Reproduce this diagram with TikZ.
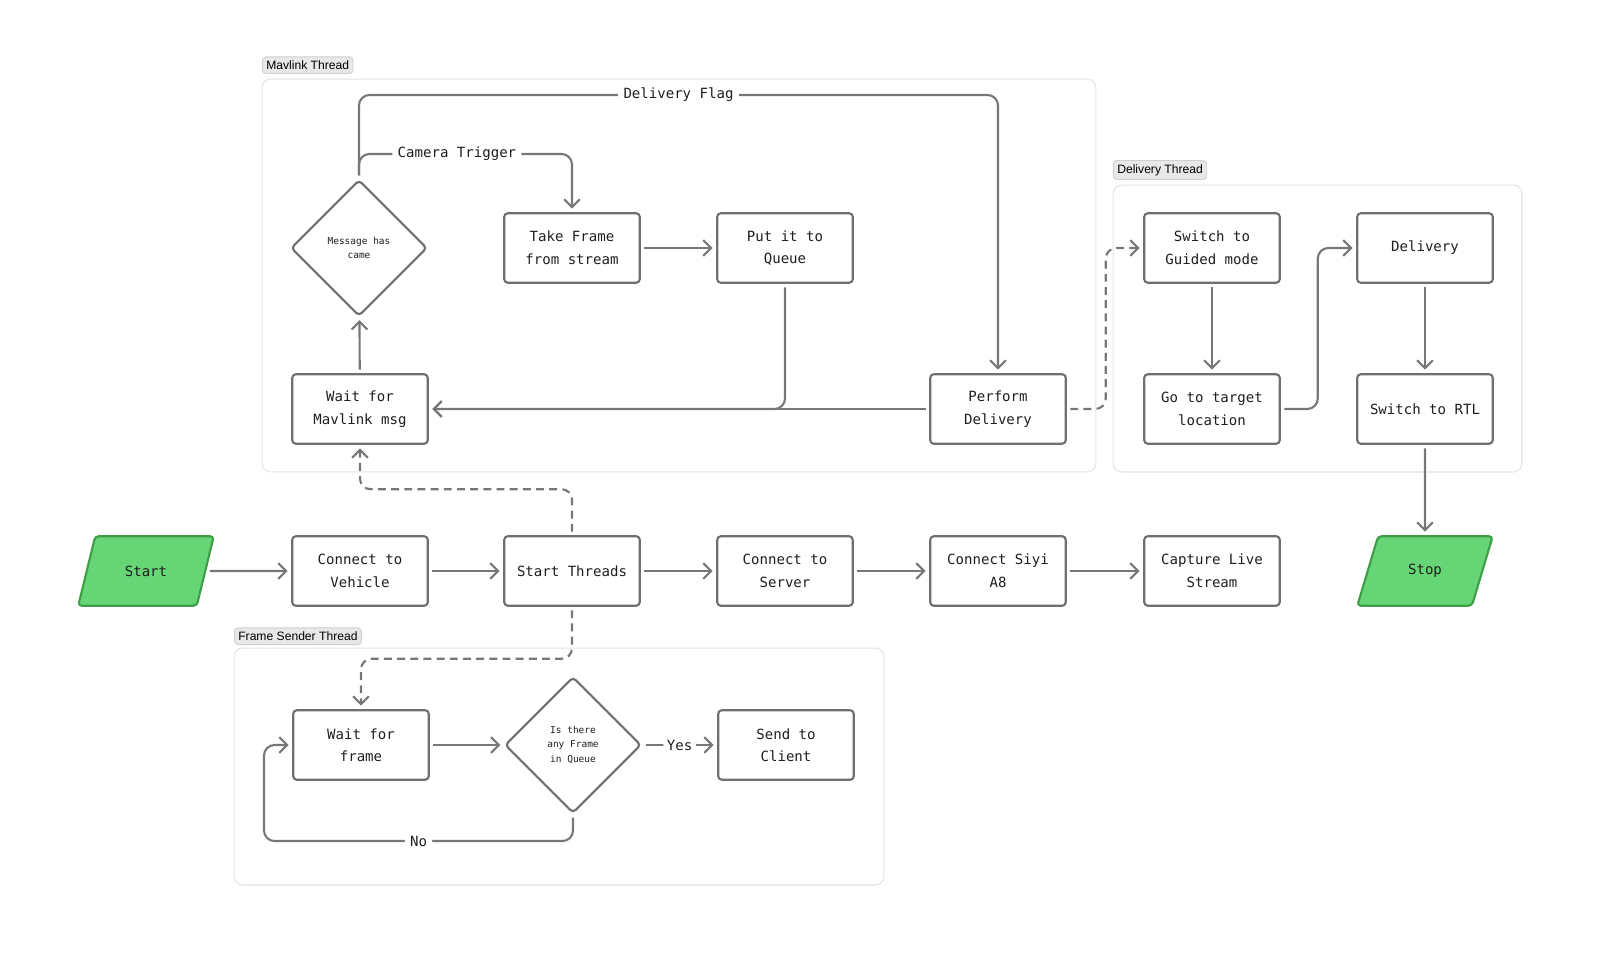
\documentclass[tikz,border=0pt]{standalone}
\usepackage{fontspec}
\setmainfont{Liberation Sans}
\setmonofont{DejaVu Sans Mono}
\usetikzlibrary{positioning, arrows.meta, shapes.geometric}

\definecolor{linegray}{HTML}{777777}
\definecolor{boxgray}{HTML}{6F6F6F}
\definecolor{textgray}{HTML}{1F1F1F}
\definecolor{startgreen}{HTML}{66D575}
\definecolor{startborder}{HTML}{3E9E48}
\definecolor{groupline}{HTML}{E4E4E4}
\definecolor{tagfill}{HTML}{E8E8E8}
\definecolor{tagline}{HTML}{CFCFCF}

\begin{document}
\begin{tikzpicture}[
    x=0.02cm, y=-0.02cm,
    % Styles
    process/.style={draw=boxgray, fill=white, line width=1.2pt, rounded corners=2pt, minimum width=2.71cm, minimum height=1.39cm, align=center, font=\ttfamily\fontsize{8}{12.8}\selectfont, text=textgray},
    decision/.style={diamond, draw=boxgray, fill=white, line width=1.2pt, rounded corners=2pt, minimum width=2.72cm, minimum height=2.72cm, inner sep=0pt, align=center, font=\ttfamily\fontsize{5.4}{8.1}\selectfont, text=textgray},
    terminal/.style={trapezium, trapezium left angle=68, trapezium right angle=112, trapezium stretches=true, draw=startborder, fill=startgreen, line width=1.2pt, rounded corners=2pt, minimum width=2.72cm, minimum height=1.39cm, font=\ttfamily\fontsize{8}{12.8}\selectfont, text=textgray},
    threadbox/.style={draw=groupline, line width=0.6pt, rounded corners=5pt},
    threadtag/.style={draw=tagline, fill=tagfill, rounded corners=2pt, line width=0.5pt, inner sep=2.2pt, minimum height=0.32cm, font=\fontsize{6.9}{7.5}\selectfont, text=black, anchor=south west},
    arrow/.style={-{Straight Barb[length=4.5pt, width=9pt]}, line width=1.2pt, linegray, rounded corners=6pt, shorten <=2pt, shorten >=2pt},
    thread-arrow/.style={arrow, dash pattern=on 4.5pt off 3pt},
    lbl/.style={fill=white, inner sep=3pt, font=\ttfamily\fontsize{8}{10}\selectfont, text=textgray},
]
\useasboundingbox (0,0) rectangle (1600,963);

% Thread frames
\node[threadbox, minimum width=16.68cm, minimum height=7.86cm] (mavframe) at (679,275.5) {};
\node[threadtag] (mavtag) at (262,74) {Mavlink Thread};
\node[threadbox, minimum width=8.18cm, minimum height=5.74cm] (delframe) at (1317.5,328.5) {};
\node[threadtag] (deltag) at (1113,180) {Delivery Thread};
\node[threadbox, minimum width=13cm, minimum height=4.74cm] (sendframe) at (559,766.5) {};
\node[threadtag] (sendtag) at (234,645) {Frame Sender Thread};

% Main sequence
\node[terminal] (start) at (146,571) {Start};
\node[process] (vehicle) at (360,571) {Connect to\\Vehicle};
\node[process] (threads) at (572,571) {Start Threads};
\node[process] (server) at (785,571) {Connect to\\Server};
\node[process] (siyi) at (998,571) {Connect Siyi\\A8};
\node[process] (capture) at (1212,571) {Capture Live\\Stream};
\node[terminal] (stop) at (1425,571) {Stop};

\draw[arrow] (start) -- (vehicle);
\draw[arrow] (vehicle) -- (threads);
\draw[arrow] (threads) -- (server);
\draw[arrow] (server) -- (siyi);
\draw[arrow] (siyi) -- (capture);

% Mavlink thread
\node[decision] (msg) at (359,248) {Message has\\came};
\node[process] (takeframe) at (572,248) {Take Frame\\from stream};
\node[process] (queue) at (785,248) {Put it to\\Queue};
\node[process] (waitmav) at (360,409) {Wait for\\Mavlink msg};
\node[process] (perform) at (998,409) {Perform\\Delivery};

\draw[arrow] (msg.north) -- ++(0,-84) -| node[pos=0.25, lbl] {Delivery Flag} (perform.north);
\draw[arrow] (msg.north) -- ++(0,-25) -| node[pos=0.23, lbl] {Camera Trigger} (takeframe.north);
\draw[arrow] (takeframe) -- (queue);
\draw[arrow] (queue.south) |- (waitmav.east);
\draw[arrow] (perform.west) -- (waitmav.east);
\draw[arrow] (waitmav) -- (msg);

% Delivery thread
\node[process] (guided) at (1212,248) {Switch to\\Guided mode};
\node[process] (target) at (1212,409) {Go to target\\location};
\node[process] (delivery) at (1425,248) {Delivery};
\node[process] (rtl) at (1425,409) {Switch to RTL};

\draw[thread-arrow] (perform.east) -- ++(39,0) |- (guided.west);
\draw[arrow] (guided) -- (target);
\draw[arrow] (target.east) -- ++(37,0) |- (delivery.west);
\draw[arrow] (delivery) -- (rtl);
\draw[arrow] (rtl) -- (stop);

% Frame sender thread
\node[process] (waitframe) at (361,745) {Wait for\\frame};
\node[decision] (anyframe) at (573,745) {Is there\\any Frame\\in Queue};
\node[process] (client) at (786,745) {Send to\\Client};
\coordinate (noturn) at (264,745);

\draw[arrow] (waitframe) -- (anyframe);
\draw[arrow] (anyframe.east) -- node[lbl, inner sep=2pt] {Yes} (client.west);
\draw[arrow] (anyframe.south) -- ++(0,27) -| node[pos=0.25, lbl] {No} (noturn) -- (waitframe.west);

% Threads started
\draw[thread-arrow] (threads.north) -- ++(0,-46) -| (waitmav.south);
\draw[thread-arrow] (threads.south) -- ++(0,52) -| (waitframe.north);

\end{tikzpicture}
\end{document}
